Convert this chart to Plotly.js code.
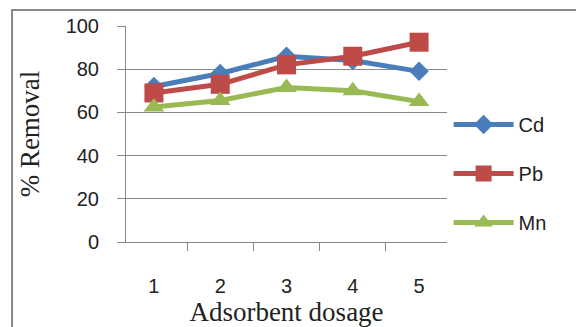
<!DOCTYPE html>
<html><head><meta charset="utf-8">
<script src="https://cdn.plot.ly/plotly-3.0.1.min.js"></script>
<style>html,body{margin:0;padding:0;background:#fff}#chart{width:576px;height:327px}</style>
</head><body><div id="chart"></div>
<script>
const categories = ["1","2","3","4","5"];
const cd = [72, 78, 86, 84, 79];
const pb = [69, 73, 82, 86, 92.5];
const mn = [62.5, 65.5, 71.5, 70, 65];
const yTicks = [0, 20, 40, 60, 80, 100];

const series = [
  {name:"Cd", y:cd, color:"#4a7ebb", symbol:"diamond", size:15},
  {name:"Pb", y:pb, color:"#be4b48", symbol:"square", size:19},
  {name:"Mn", y:mn, color:"#98b954", symbol:"triangle-up", size:18}
];
const traces = series.map(s => ({
  type:"scatter", mode:"lines+markers", x:categories, y:s.y, name:s.name,
  legendgroup:s.name,
  line:{color:s.color, width:5},
  marker:{color:s.color, symbol:s.symbol, size:s.size, line:{width:0}}
}));

const layout = {
  width:576, height:327,
  margin:{l:126, r:129, t:26, b:85},
  paper_bgcolor:"#fff", plot_bgcolor:"#fff",
  font:{family:"Liberation Sans, Arial, sans-serif", color:"#222"},
  xaxis:{
    type:"category", tickson:"boundaries",
    ticks:"outside", ticklen:8, tickcolor:"#888", tickwidth:1,
    showgrid:false, showline:true, linecolor:"#888", linewidth:1,
    tickfont:{size:20, color:"#222"}, ticklabelstandoff:26,
    title:{text:"Adsorbent dosage", font:{family:"Liberation Serif, Times New Roman, serif", size:27, color:"#222"}, standoff:0}
  },
  yaxis:{
    range:[0,100], tickvals:yTicks, ticktext:yTicks.map(String),
    ticks:"outside", ticklen:8, tickcolor:"#888", tickwidth:1,
    showgrid:true, gridcolor:"#888", gridwidth:1, zeroline:false,
    showline:true, linecolor:"#888", linewidth:1,
    tickfont:{size:20, color:"#222"}, ticklabelstandoff:14,
    title:{text:"% Removal", font:{family:"Liberation Serif, Times New Roman, serif", size:27, color:"#222"}, standoff:18}
  },
  legend:{x:1.005, xanchor:"left", y:0.634, yanchor:"top", itemwidth:60,
    font:{size:20, color:"#222"}, traceorder:"grouped", tracegroupgap:20,
    bgcolor:"rgba(0,0,0,0)"},
  shapes:[{type:"rect", xref:"paper", yref:"paper", x0:-0.355, x1:1.5, y0:-0.6, y1:1.074,
    line:{color:"#888", width:2}, fillcolor:"rgba(0,0,0,0)"}]
};
Plotly.newPlot("chart", traces, layout, {displayModeBar:false, staticPlot:true});
</script></body></html>
